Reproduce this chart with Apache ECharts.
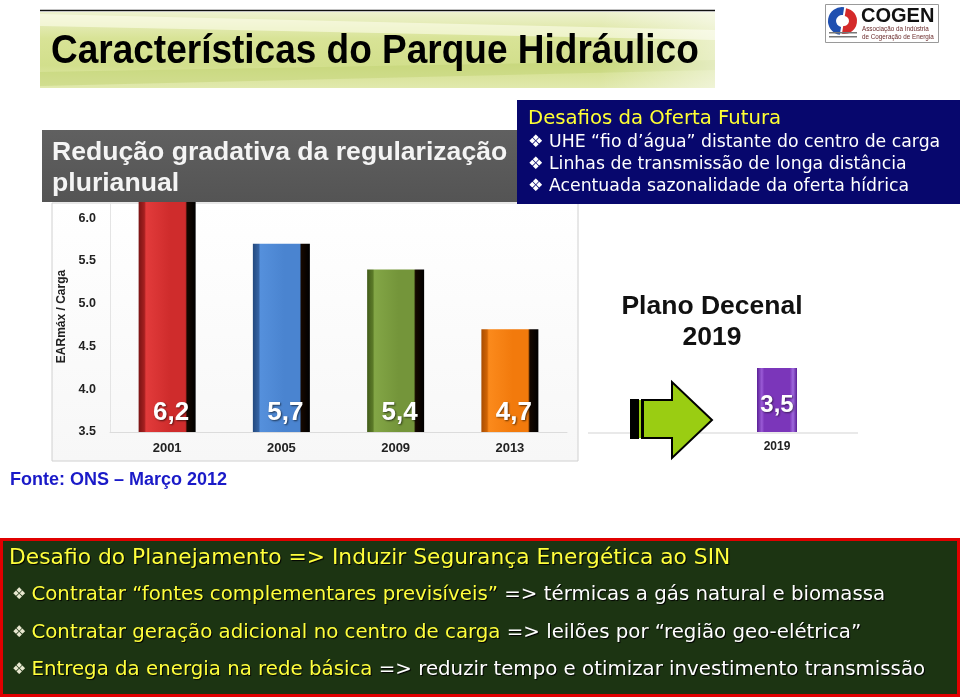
<!DOCTYPE html>
<html>
<head>
<meta charset="utf-8">
<script src="https://cdn.jsdelivr.net/npm/echarts/dist/echarts.min.js"></script>
<style>
html,body{margin:0;padding:0;background:#fff;}
#chart{width:960px;height:697px;}
</style>
</head>
<body>
<div id="chart"></div>
<script>
// ---- data ----
var categories = ['2001', '2005', '2009', '2013'];
var values = [6.2, 5.7, 5.4, 4.7];
var forecastCategories = ['2019'];
var forecastValues = [3.5];
var yMin = 3.5, yMax = 6.2, yInterval = 0.5;

var barBase = [
  ['#7a1414', '#a52020', '#e23b3b', '#cf2c2c'],
  ['#23497e', '#3563a3', '#5590dc', '#4a84d0'],
  ['#425c1b', '#5b7a28', '#83a646', '#74953a'],
  ['#a84d02', '#d06405', '#fb8a1c', '#f27a0c']
];
function bevel(c) {
  return {
    type: 'linear', x: 0, y: 0, x2: 1, y2: 0,
    colorStops: [
      {offset: 0, color: c[0]}, {offset: 0.1, color: c[1]},
      {offset: 0.13, color: c[2]}, {offset: 0.55, color: c[3]},
      {offset: 0.82, color: c[3]}, {offset: 0.85, color: '#150800'},
      {offset: 1, color: '#000'}
    ]
  };
}
var purple = {
  type: 'linear', x: 0, y: 0, x2: 1, y2: 0,
  colorStops: [
    {offset: 0, color: '#5a1f96'}, {offset: 0.12, color: '#9a5ad6'},
    {offset: 0.18, color: '#7b36ba'}, {offset: 0.82, color: '#7b36ba'},
    {offset: 0.9, color: '#a06ade'}, {offset: 1, color: '#5a1f96'}
  ]
};
function comma(p) { return String(p.value).replace('.', ','); }

var mainData = values.map(function (v, i) {
  return {value: v, itemStyle: {color: bevel(barBase[i])}};
});

var chart = echarts.init(document.getElementById('chart'), null, {renderer: 'canvas'});

var shadow = {textShadowColor: '#000', textShadowOffsetX: 1, textShadowOffsetY: 1, textShadowBlur: 1};
function rs(fill, font) {
  var o = {fill: fill, color: fill, font: font};
  for (var k in shadow) o[k] = shadow[k];
  return o;
}
var bottomRich = {
  h: rs('#ffff3c', '21.8px "DejaVu Sans"'),
  y: rs('#ffff3c', '19.8px "DejaVu Sans"'),
  w: rs('#ffffff', '19.8px "DejaVu Sans"'),
  b: {fill: '#e8e8d0', color: '#e8e8d0', font: '16px "DejaVu Sans"'}
};
function txt(x, y, text, font, fill, extra) {
  var o = {
    type: 'text', x: x, y: y, z: 100,
    style: {text: text, font: font, fill: fill, textAlign: 'left', textVerticalAlign: 'middle', align: 'left', verticalAlign: 'middle'}
  };
  if (extra) { for (var k in extra) { if (k === 'style') { for (var s in extra.style) o.style[s] = extra.style[s]; } else o[k] = extra[k]; } }
  return o;
}

var option = {
  backgroundColor: '#ffffff',
  animation: false,
  grid: [
    {left: 110, right: 393, top: 201, bottom: 265},
    {left: 738, width: 78, top: 368, bottom: 265}
  ],
  xAxis: [
    {
      type: 'category', gridIndex: 0, data: categories,
      axisLine: {lineStyle: {color: '#dcdcdc', width: 1}},
      axisTick: {show: false},
      axisLabel: {color: '#222', fontWeight: 'bold', fontSize: 13, fontFamily: 'Liberation Sans', margin: 10}
    },
    {
      type: 'category', gridIndex: 1, data: forecastCategories,
      axisLine: {show: false}, axisTick: {show: false},
      axisLabel: {color: '#222', fontWeight: 'bold', fontSize: 12, fontFamily: 'Liberation Sans', margin: 9}
    }
  ],
  yAxis: [
    {
      type: 'value', gridIndex: 0, min: yMin, max: yMax, interval: yInterval,
      name: 'EARmáx / Carga', nameLocation: 'middle', nameGap: 42, nameRotate: 90,
      nameTextStyle: {color: '#222', fontWeight: 'bold', fontSize: 12, fontFamily: 'Liberation Sans'},
      axisLine: {show: true, lineStyle: {color: '#e4e4e4'}},
      axisTick: {show: false},
      splitLine: {show: false},
      axisLabel: {color: '#222', fontWeight: 'bold', fontSize: 12.5, fontFamily: 'Liberation Sans', margin: 14, showMaxLabel: false,
        formatter: function (v) { return v.toFixed(1); }}
    },
    {
      type: 'value', gridIndex: 1, min: 0, max: 3.5, show: false
    }
  ],
  series: [
    {
      type: 'bar', xAxisIndex: 0, yAxisIndex: 0, data: mainData, barWidth: 57,
      label: {show: true, position: 'insideBottom', distance: 6, offset: [4, 0], formatter: comma,
        color: '#fff', fontSize: 26, fontWeight: 'bold', fontFamily: 'Liberation Sans',
        textShadowColor: 'rgba(0,0,0,0.6)', textShadowBlur: 2, textShadowOffsetX: 1, textShadowOffsetY: 1}
    },
    {
      type: 'bar', xAxisIndex: 1, yAxisIndex: 1, data: forecastValues, barWidth: 40,
      itemStyle: {color: purple},
      label: {show: true, position: 'insideBottom', distance: 15, formatter: comma,
        color: '#fff', fontSize: 24, fontWeight: 'bold', fontFamily: 'Liberation Sans',
        textShadowColor: 'rgba(0,0,0,0.5)', textShadowBlur: 2, textShadowOffsetX: 1, textShadowOffsetY: 1}
    }
  ],
  graphic: [
    // chart panel
    {type: 'rect', z: -10, shape: {x: 52, y: 203, width: 526, height: 258},
      style: {fill: {type: 'linear', x: 0, y: 0, x2: 0, y2: 1, colorStops: [{offset: 0, color: '#ffffff'}, {offset: 1, color: '#f7f7f7'}]}, stroke: '#d0d0d0', lineWidth: 1}},
    {type: 'line', z: -5, shape: {x1: 588, y1: 433, x2: 858, y2: 433}, style: {stroke: '#e2e2e2', lineWidth: 1.5}},
    // top banner
    {type: 'rect', z: 90, shape: {x: 40, y: 12, width: 675, height: 76},
      style: {fill: {type: 'linear', x: 0, y: 0, x2: 0, y2: 1, colorStops: [
        {offset: 0, color: '#eef2cf'}, {offset: 0.35, color: '#d8e396'}, {offset: 0.7, color: '#d2df8c'}, {offset: 1, color: '#e1e9ae'}]}}},
    {type: 'polygon', z: 91, shape: {points: [[40, 14], [715, 30], [715, 40], [40, 26]]}, style: {fill: 'rgba(255,255,240,0.55)'}},
    {type: 'polygon', z: 91, shape: {points: [[40, 72], [715, 60], [715, 70], [40, 86]]}, style: {fill: 'rgba(190,208,110,0.45)'}},
    {type: 'rect', z: 91, shape: {x: 600, y: 12, width: 115, height: 76},
      style: {fill: {type: 'linear', x: 0, y: 0, x2: 1, y2: 0, colorStops: [{offset: 0, color: 'rgba(255,255,255,0)'}, {offset: 1, color: 'rgba(255,255,255,0.5)'}]}}},
    {type: 'line', z: 92, shape: {x1: 40, y1: 10.5, x2: 715, y2: 10.5}, style: {stroke: '#111', lineWidth: 1.5}},
    txt(51, 52, 'Características do Parque Hidráulico', 'bold 40px "Liberation Sans"', '#000', {scaleX: 0.925, z: 95}),
    // logo
    {type: 'rect', z: 90, shape: {x: 825.5, y: 4.5, width: 113, height: 38}, style: {fill: '#fff', stroke: '#9a9a9a', lineWidth: 1}},
    {type: 'sector', z: 91, shape: {cx: 842, cy: 21, r: 14, r0: 6, startAngle: Math.PI * 0.55, endAngle: Math.PI * 1.55}, style: {fill: '#1f4fb0'}},
    {type: 'sector', z: 91, shape: {cx: 844, cy: 21, r: 13, r0: 5, startAngle: -Math.PI * 0.45, endAngle: Math.PI * 0.55}, style: {fill: '#d42a2a'}},
    {type: 'rect', z: 92, shape: {x: 829, y: 32, width: 28, height: 1.5}, style: {fill: '#777'}},
    {type: 'rect', z: 92, shape: {x: 829, y: 36, width: 28, height: 1.5}, style: {fill: '#777'}},
    txt(861, 16, 'COGEN', 'bold 20px "Liberation Sans"', '#111', {z: 93}),
    txt(862, 29, 'Associação da Indústria', '6.3px "Liberation Sans"', '#6a2a2a', {z: 93}),
    txt(862, 37, 'de Cogeração de Energia', '6.3px "Liberation Sans"', '#6a2a2a', {z: 93}),
    // gray header
    {type: 'rect', z: 90, shape: {x: 42, y: 130, width: 480, height: 72},
      style: {fill: {type: 'linear', x: 0, y: 0, x2: 0, y2: 1, colorStops: [{offset: 0, color: '#606060'}, {offset: 1, color: '#545454'}]}}},
    txt(52, 153, 'Redução gradativa da regularização', 'bold 26.6px "Liberation Sans"', '#f4f4f4', {z: 95, style: {textShadowColor: 'rgba(0,0,0,0.5)', textShadowOffsetX: 1, textShadowOffsetY: 1}}),
    txt(52, 184, 'plurianual', 'bold 26.6px "Liberation Sans"', '#f4f4f4', {z: 95, style: {textShadowColor: 'rgba(0,0,0,0.5)', textShadowOffsetX: 1, textShadowOffsetY: 1}}),
    // blue box
    {type: 'rect', z: 96, shape: {x: 517, y: 100, width: 443, height: 104}, style: {fill: '#07076d'}},
    txt(528, 119, 'Desafios da Oferta Futura', '19.7px "DejaVu Sans"', '#ffff33', {z: 97}),
    txt(528, 143, '❖ UHE “fio d’água” distante do centro de carga', '17.3px "DejaVu Sans"', '#ffffff', {z: 97}),
    txt(528, 165, '❖ Linhas de transmissão de longa distância', '17.3px "DejaVu Sans"', '#ffffff', {z: 97}),
    txt(528, 187, '❖ Acentuada sazonalidade da oferta hídrica', '17.3px "DejaVu Sans"', '#ffffff', {z: 97}),
    // arrow
    {type: 'polygon', z: 60, shape: {points: [[643, 400], [672, 400], [672, 382], [712, 420], [672, 458], [672, 438], [643, 438]]},
      style: {fill: '#9acd12', stroke: '#000', lineWidth: 2}},
    {type: 'rect', z: 61, shape: {x: 630, y: 399, width: 9, height: 40}, style: {fill: '#000'}},
    {type: 'rect', z: 61, shape: {x: 639, y: 400, width: 2, height: 38}, style: {fill: '#9acd12'}},
    {type: 'rect', z: 61, shape: {x: 641, y: 399, width: 3, height: 40}, style: {fill: '#000'}},
    txt(712, 307, 'Plano Decenal', 'bold 26.5px "Liberation Sans"', '#111', {z: 60, style: {textAlign: 'center', align: 'center'}}),
    txt(712, 338, '2019', 'bold 26.5px "Liberation Sans"', '#111', {z: 60, style: {textAlign: 'center', align: 'center'}}),
    // source
    txt(10, 480, 'Fonte: ONS – Março 2012', 'bold 18px "Liberation Sans"', '#1a1ac8', {z: 60}),
    // bottom box
    {type: 'rect', z: 60, shape: {x: 1.5, y: 539.5, width: 957, height: 156}, style: {fill: '#1c3412', stroke: '#e00000', lineWidth: 3}},
    {type: 'text', x: 9, y: 558, z: 61, style: {text: '{h|Desafio do Planejamento => Induzir Segurança Energética ao SIN}', rich: bottomRich, textVerticalAlign: 'middle', verticalAlign: 'middle'}},
    {type: 'text', x: 12, y: 595, z: 61, style: {text: '{b|❖ }{y|Contratar “fontes complementares previsíveis”}{w| => térmicas a gás natural e biomassa}', rich: bottomRich, textVerticalAlign: 'middle', verticalAlign: 'middle'}},
    {type: 'text', x: 12, y: 633, z: 61, style: {text: '{b|❖ }{y|Contratar geração adicional no centro de carga}{w| => leilões por “região geo-elétrica”}', rich: bottomRich, textVerticalAlign: 'middle', verticalAlign: 'middle'}},
    {type: 'text', x: 12, y: 670, z: 61, style: {text: '{b|❖ }{y|Entrega da energia na rede básica}{w| => reduzir tempo e otimizar investimento transmissão}', rich: bottomRich, textVerticalAlign: 'middle', verticalAlign: 'middle'}}
  ]
};
chart.setOption(option);
</script>
</body>
</html>
